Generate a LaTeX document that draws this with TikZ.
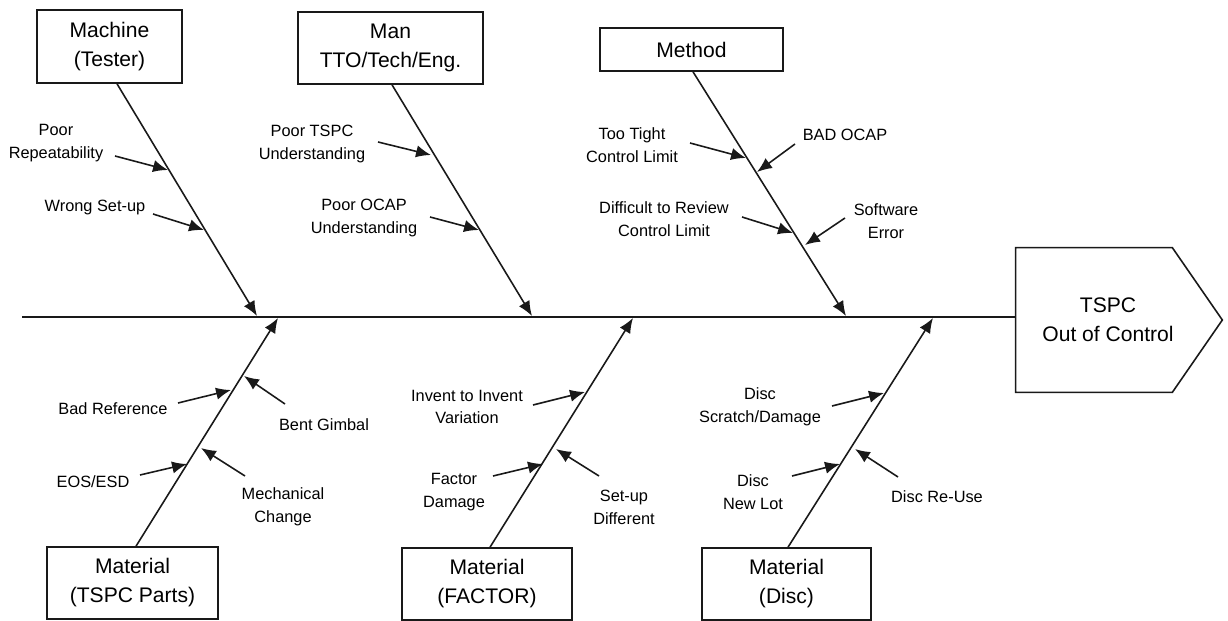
\documentclass[tikz,border=0pt]{standalone}
\usepackage{fontspec}
\setmainfont{Liberation Sans}
\usetikzlibrary{arrows.meta}
\definecolor{inkblack}{RGB}{25,25,25}

\tikzset{
  catbox/.style={draw=inkblack, line width=0.9pt, align=center, inner sep=0pt,
    font=\fontsize{12}{16.5}\selectfont},
  causetext/.style={align=center, inner sep=0pt, font=\fontsize{9.3}{13}\selectfont},
  bone/.style={draw=inkblack, line width=0.9pt, -{Latex[length=8.5pt,width=7pt]}},
  cause/.style={bone}
}

\begin{document}
\begin{tikzpicture}[x=0.02cm, y=-0.02cm]
\useasboundingbox (0,0) rectangle (1228,621);

% category boxes
\node[catbox, minimum width=2.9cm, minimum height=1.46cm] (machine) at (109.5,46.5) {Machine\\(Tester)};
\node[catbox, minimum width=3.7cm, minimum height=1.44cm] (man) at (390.5,48) {Man\\{TTO/Tech/Eng.}};
\node[catbox, minimum width=3.66cm, minimum height=0.86cm] (method) at (691.5,49.5) {Method};
\node[catbox, minimum width=3.42cm, minimum height=1.44cm] (parts) at (132.5,583) {Material\\(TSPC Parts)};
\node[catbox, minimum width=3.4cm, minimum height=1.44cm] (factor) at (487,584) {Material\\(FACTOR)};
\node[catbox, minimum width=3.38cm, minimum height=1.44cm] (disc) at (786.5,584) {Material\\(Disc)};

% effect head
\node[align=center, inner sep=0pt, minimum width=3.68cm, minimum height=2.88cm,
  font=\fontsize{12}{16.5}\selectfont] (effect) at (1108,320) {TSPC\\Out of Control};
\draw[inkblack, line width=0.9pt] (effect.north west) -- ([xshift=-0.56cm]effect.north east)
  -- ([xshift=0.44cm]effect.east) -- ([xshift=-0.56cm]effect.south east) -- (effect.south west) -- cycle;

% spine
\coordinate (tail) at (22,317);
\draw[inkblack, line width=0.9pt] (tail) -- (tail -| effect.west);

% bones
\coordinate (j1) at (257,316);
\coordinate (j2) at (532,316);
\coordinate (j3) at (846,316);
\coordinate (j4) at (278,318);
\coordinate (j5) at (633,318);
\coordinate (j6) at (933,318);
\draw[bone] ([xshift=0.15cm]machine.south) -- (j1);
\draw[bone] ([xshift=0.03cm]man.south) -- (j2);
\draw[bone] ([xshift=0.03cm]method.south) -- (j3);
\draw[bone] ([xshift=0.07cm]parts.north) -- (j4);
\draw[bone] ([xshift=0.06cm]factor.north) -- (j5);
\draw[bone] ([xshift=0.03cm]disc.north) -- (j6);

% causes
\foreach \n/\lx/\ly/\txt/\sx/\sy/\tx/\ty in {
  rep/56/143/{Poor\\Repeatability}/115/156/168/170,
  wsu/95/207/{Wrong Set-up}/153/214/204/230,
  tspc/312/144/{Poor TSPC\\Understanding}/378/142/431/155,
  ocapu/364/218/{Poor OCAP\\Understanding}/430/217/479/230,
  tight/632/145/{Too Tight\\Control Limit}/690/143/746/158,
  badocap/845/135/{BAD OCAP}/795/144/757/172,
  review/664/219/{Difficult to Review\\Control Limit}/742/217/793/233,
  software/886/221/{Software\\Error}/845/218/805/245,
  badref/113/409/{Bad Reference}/178/403/231/390,
  bent/324/425/{Bent Gimbal}/285/404/244/376,
  eos/93/482/{EOS/ESD}/140/475/187/464,
  mech/283/507/{Mechanical\\Change}/245/476/201/448,
  invent/467/407/{Invent to Invent\\Variation}/533/405/585/392,
  fdmg/454/492/{Factor\\Damage}/493/476/543/464,
  setup/624/507/{Set-up\\Different}/599/476/556/449,
  scratch/760/407/{Disc\\Scratch/Damage}/832/406/884/393,
  newlot/753/492/{Disc\\New Lot}/792/476/840/464,
  reuse/937/497/{Disc Re-Use}/898/477/855/449%
}{
  \node[causetext] (\n) at (\lx,\ly) {\txt};
  \coordinate (\n-from) at (\sx,\sy);
  \coordinate (\n-to) at (\tx,\ty);
  \draw[cause] (\n-from) -- (\n-to);
}
\end{tikzpicture}
\end{document}
